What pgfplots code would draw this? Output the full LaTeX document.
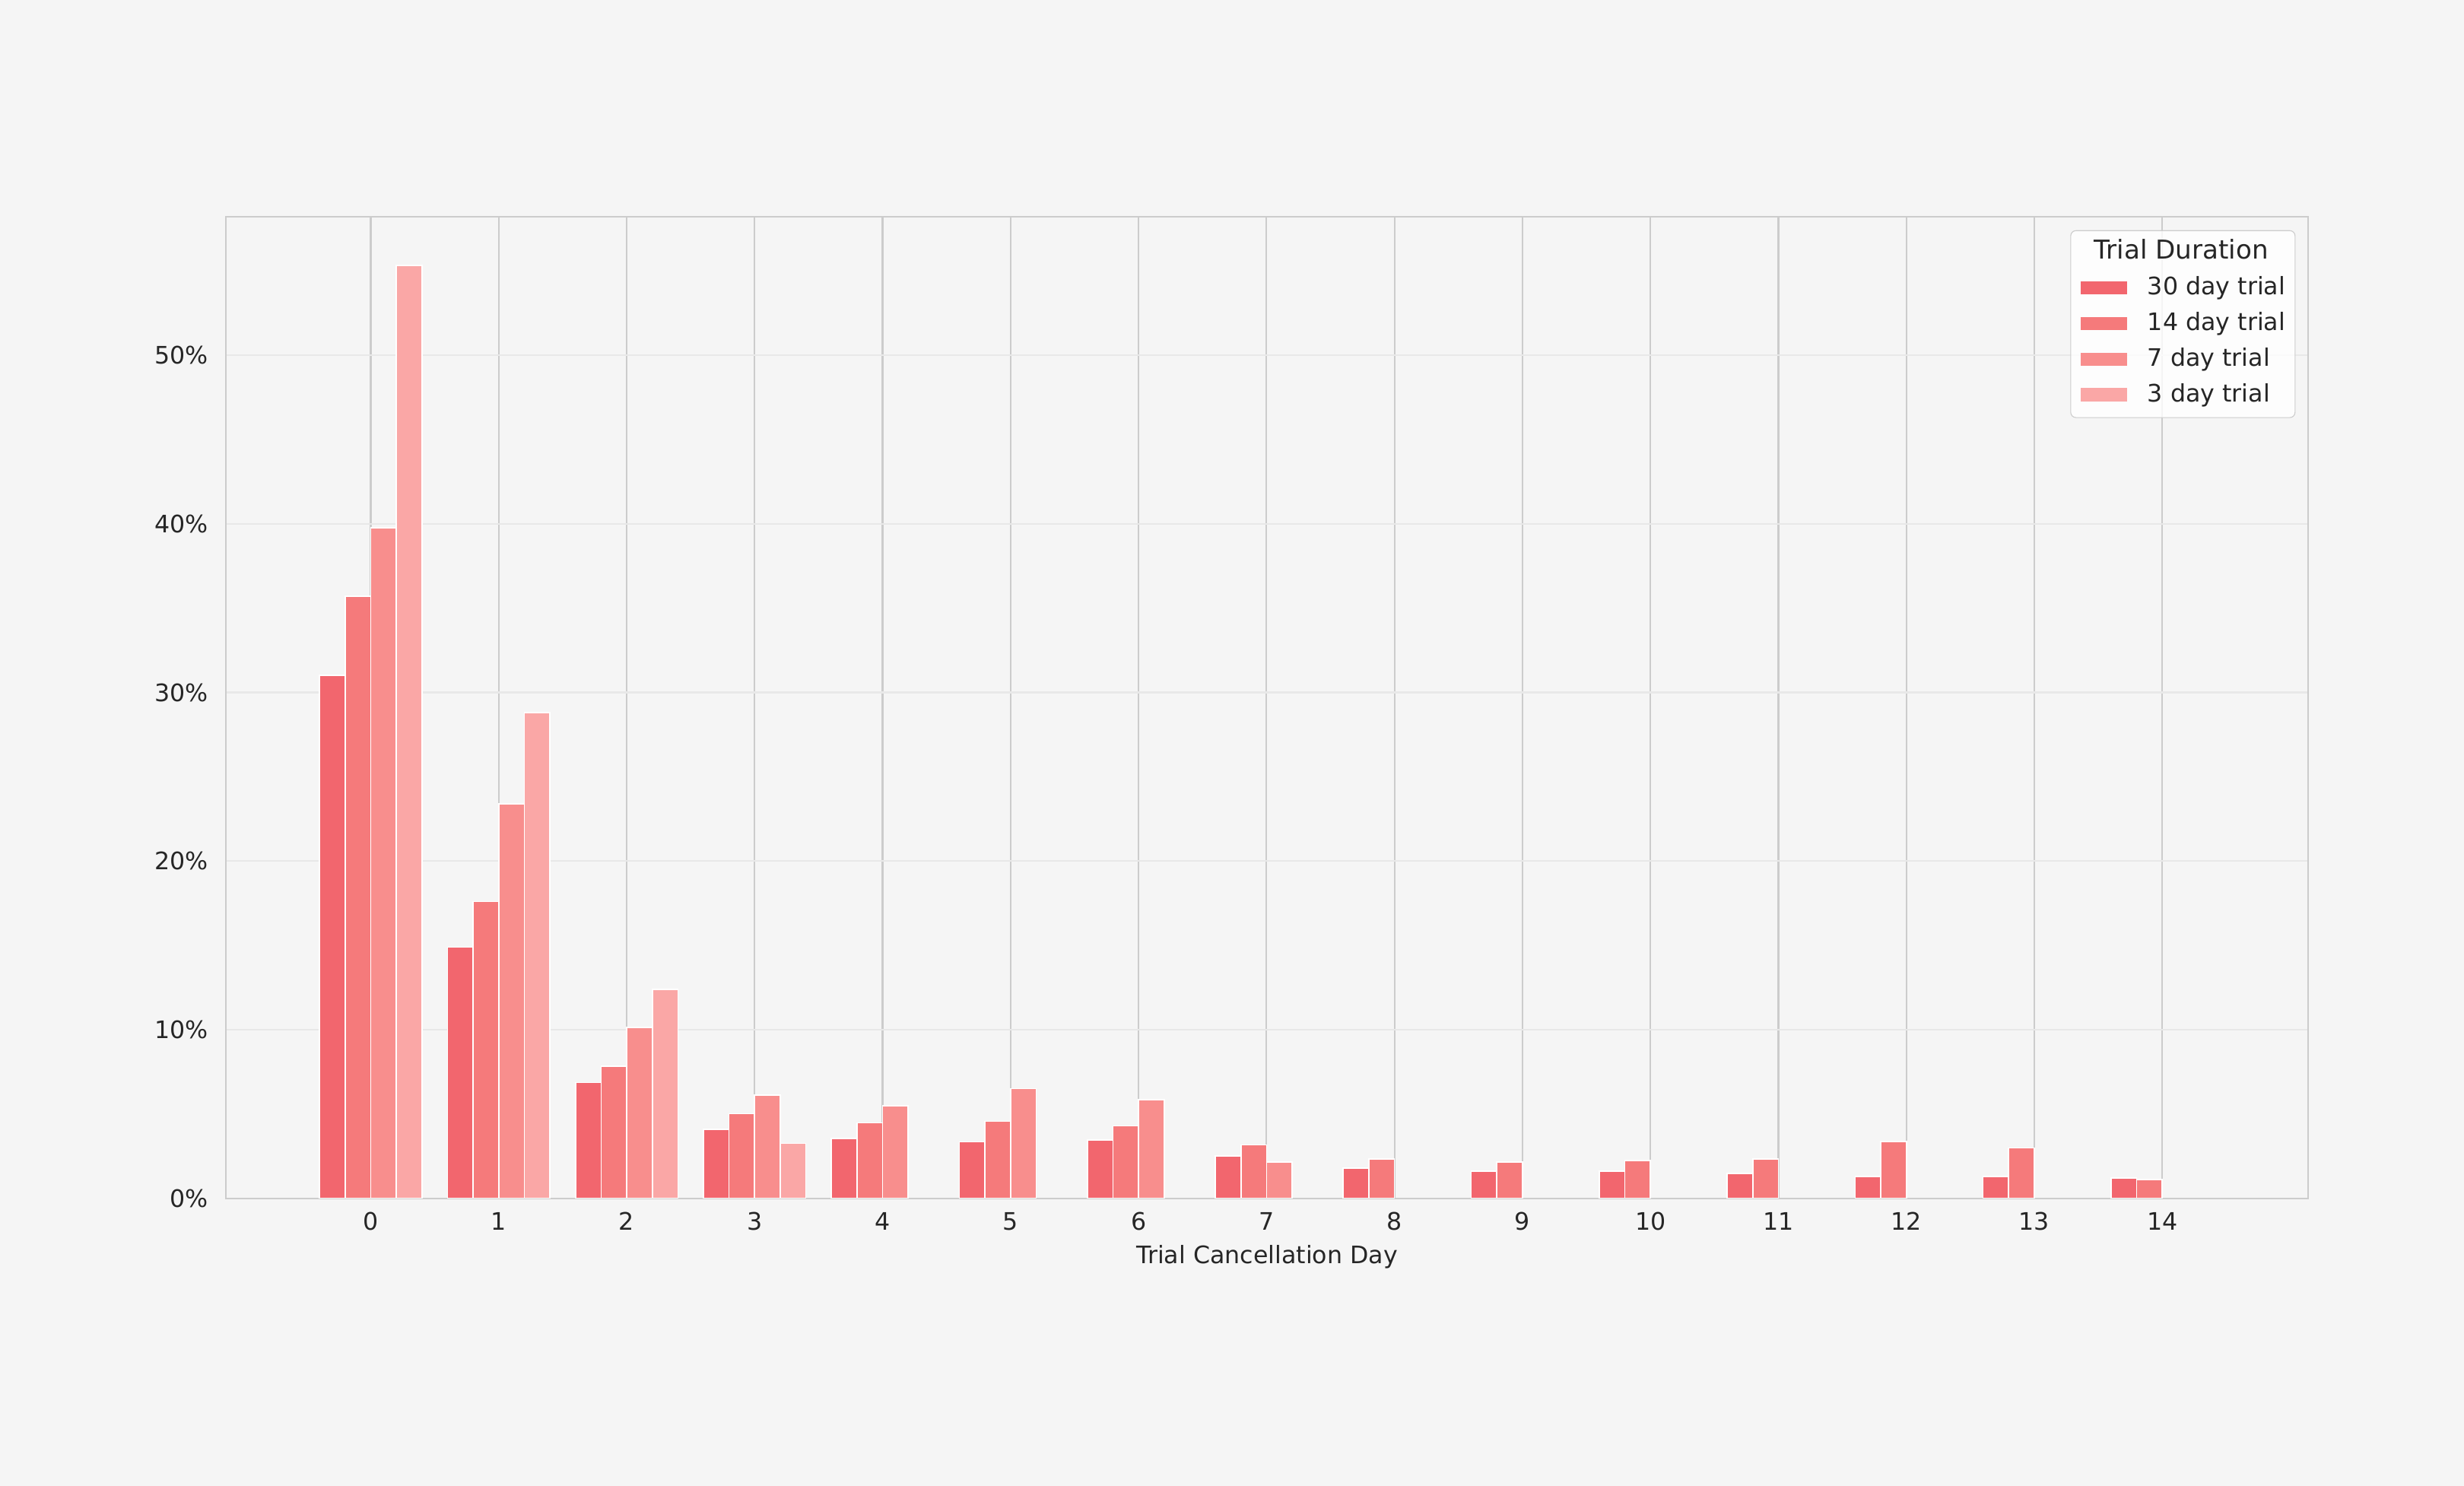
\documentclass[border=0pt]{standalone}
\usepackage{fontspec}
\setmainfont{DejaVu Sans}
\usepackage{pgfplots}
\pgfplotsset{compat=1.18}

\definecolor{bg}{HTML}{F5F5F5}
\definecolor{txt}{HTML}{262626}
\definecolor{spine}{HTML}{CCCCCC}
\definecolor{vgrid}{HTML}{CCCCCC}
\definecolor{hgrid}{HTML}{E8E8E8}
\definecolor{cA}{HTML}{F2666E}
\definecolor{cB}{HTML}{F57A7B}
\definecolor{cC}{HTML}{F88E8D}
\definecolor{cD}{HTML}{FAA7A6}

\begin{document}
\begin{tikzpicture}
% figure background, sets the page size
\fill[bg] (-107pt,-136pt) rectangle (1059.5pt,567.4pt);
\begin{axis}[
  at={(0,0)}, anchor=south west,
  scale only axis, width=985.7pt, height=464.8pt,
  ybar=0pt, bar width=0.2,
  xmin=-1.131, xmax=15.14, ymin=0, ymax=58.2,
  xtick={0,...,14}, ytick={0,10,...,50},
  yticklabels={0\%,10\%,20\%,30\%,40\%,50\%},
  /pgf/number format/assume math mode=true,
  major tick length=0pt,
  axis line style={spine, line width=0.9pt},
  axis background/.style={fill=bg},
  xmajorgrids, ymajorgrids,
  x grid style={vgrid, line width=0.8pt},
  y grid style={hgrid, line width=0.8pt},
  tick label style={font=\fontsize{11.4}{13.5}\selectfont, text=txt},
  xticklabel style={yshift=-3pt},
  yticklabel style={xshift=-5pt},
  xlabel={Trial Cancellation Day},
  xlabel style={font=\fontsize{11.4}{13.5}\selectfont, text=txt},
  every axis plot/.append style={draw=white, line width=0.6pt},
  legend image code/.code={\fill[#1, draw=none, fill opacity=1, sharp corners] (0pt,-2.95pt) rectangle (22.2pt,3.45pt);},
  legend cell align=left,
  legend style={at={(1,1)}, anchor=north east, xshift=-6pt, yshift=-6.4pt,
    draw=spine, fill=white, fill opacity=0.8, text opacity=1,
    rounded corners=2.5pt, font=\fontsize{11.4}{13.5}\selectfont, text=txt,
    inner xsep=4.6pt, inner ysep=2pt, column sep=9.6pt, row sep=0pt,
    nodes={inner xsep=0pt, inner ysep=2.7pt, text height=8.7pt, text depth=2.8pt}},
]
\addlegendimage{empty legend}
\addlegendentry{\hspace*{-25.2pt}\fontsize{12.3}{14.5}\selectfont Trial Duration}

\addplot[fill=cA] coordinates {(0,31.0) (1,14.9) (2,6.87) (3,4.10) (4,3.55) (5,3.35) (6,3.46) (7,2.52) (8,1.79) (9,1.61) (10,1.61) (11,1.50) (12,1.32) (13,1.32) (14,1.22)};
\addlegendentry{30 day trial}
\addplot[fill=cB] coordinates {(0,35.7) (1,17.6) (2,7.84) (3,5.03) (4,4.48) (5,4.57) (6,4.30) (7,3.17) (8,2.34) (9,2.16) (10,2.25) (11,2.34) (12,3.37) (13,2.99) (14,1.13)};
\addlegendentry{14 day trial}
\addplot[fill=cC] coordinates {(0,39.75) (1,23.4) (2,10.15) (3,6.14) (4,5.51) (5,6.52) (6,5.87) (7,2.16)};
\addlegendentry{7 day trial}
\addplot[fill=cD] coordinates {(0,55.3) (1,28.8) (2,12.4) (3,3.26)};
\addlegendentry{3 day trial}
\end{axis}
\end{tikzpicture}
\end{document}
